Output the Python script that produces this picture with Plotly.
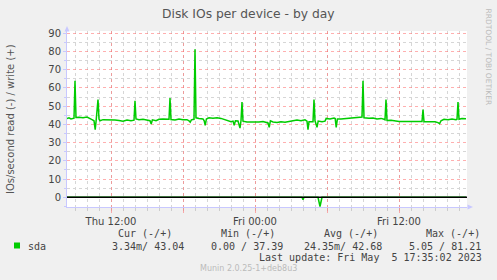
import plotly.graph_objects as go

# ---------------- data ----------------
write_times = [
    "2023-05-04 08:20", "2023-05-04 08:30", "2023-05-04 08:40", "2023-05-04 08:50", "2023-05-04 08:55",
    "2023-05-04 09:00", "2023-05-04 09:05", "2023-05-04 09:20", "2023-05-04 09:40", "2023-05-04 10:00",
    "2023-05-04 10:15", "2023-05-04 10:25", "2023-05-04 10:35", "2023-05-04 10:41", "2023-05-04 10:46",
    "2023-05-04 10:55", "2023-05-04 11:00", "2023-05-04 11:05", "2023-05-04 11:20", "2023-05-04 11:40",
    "2023-05-04 12:00", "2023-05-04 12:20", "2023-05-04 12:40", "2023-05-04 13:00", "2023-05-04 13:20",
    "2023-05-04 13:40", "2023-05-04 13:55", "2023-05-04 14:00", "2023-05-04 14:05", "2023-05-04 14:20",
    "2023-05-04 14:40", "2023-05-04 15:00", "2023-05-04 15:15", "2023-05-04 15:21", "2023-05-04 15:27",
    "2023-05-04 15:45", "2023-05-04 16:00", "2023-05-04 16:20", "2023-05-04 16:40", "2023-05-04 16:50",
    "2023-05-04 16:55", "2023-05-04 17:00", "2023-05-04 17:20", "2023-05-04 17:40", "2023-05-04 18:00",
    "2023-05-04 18:20", "2023-05-04 18:30", "2023-05-04 18:36", "2023-05-04 18:42", "2023-05-04 18:55",
    "2023-05-04 19:00", "2023-05-04 19:05", "2023-05-04 19:20", "2023-05-04 19:40", "2023-05-04 19:46",
    "2023-05-04 19:51", "2023-05-04 19:57", "2023-05-04 20:10", "2023-05-04 20:30", "2023-05-04 20:50",
    "2023-05-04 21:10", "2023-05-04 21:30", "2023-05-04 21:45", "2023-05-04 22:00", "2023-05-04 22:10",
    "2023-05-04 22:16", "2023-05-04 22:22", "2023-05-04 22:35", "2023-05-04 22:45", "2023-05-04 22:50",
    "2023-05-04 22:55", "2023-05-04 23:00", "2023-05-04 23:20", "2023-05-04 23:40", "2023-05-05 00:00",
    "2023-05-05 00:20", "2023-05-05 00:40", "2023-05-05 01:00", "2023-05-05 01:05", "2023-05-05 01:11",
    "2023-05-05 01:17", "2023-05-05 01:30", "2023-05-05 01:50", "2023-05-05 02:10", "2023-05-05 02:30",
    "2023-05-05 02:50", "2023-05-05 03:10", "2023-05-05 03:30", "2023-05-05 03:50", "2023-05-05 04:10",
    "2023-05-05 04:20", "2023-05-05 04:25", "2023-05-05 04:30", "2023-05-05 04:45", "2023-05-05 04:50",
    "2023-05-05 04:55", "2023-05-05 05:00", "2023-05-05 05:10", "2023-05-05 05:16", "2023-05-05 05:35",
    "2023-05-05 05:50", "2023-05-05 05:56", "2023-05-05 06:15", "2023-05-05 06:35", "2023-05-05 06:41",
    "2023-05-05 06:46", "2023-05-05 06:52", "2023-05-05 07:10", "2023-05-05 07:30", "2023-05-05 07:50",
    "2023-05-05 08:10", "2023-05-05 08:30", "2023-05-05 08:50", "2023-05-05 08:55", "2023-05-05 09:00",
    "2023-05-05 09:05", "2023-05-05 09:30", "2023-05-05 09:50", "2023-05-05 10:10", "2023-05-05 10:30",
    "2023-05-05 10:45", "2023-05-05 10:50", "2023-05-05 10:55", "2023-05-05 11:00", "2023-05-05 11:20",
    "2023-05-05 11:40", "2023-05-05 12:00", "2023-05-05 12:30", "2023-05-05 13:00", "2023-05-05 13:30",
    "2023-05-05 13:50", "2023-05-05 13:55", "2023-05-05 14:00", "2023-05-05 14:05", "2023-05-05 14:30",
    "2023-05-05 15:00", "2023-05-05 15:15", "2023-05-05 15:23", "2023-05-05 15:30", "2023-05-05 15:45",
    "2023-05-05 16:05", "2023-05-05 16:25", "2023-05-05 16:45", "2023-05-05 16:50", "2023-05-05 16:55",
    "2023-05-05 17:00", "2023-05-05 17:15", "2023-05-05 17:30", "2023-05-05 17:35",
]
write_vals = [
    43.2, 43.6, 43.0, 43.5, 43.4,
    64.0, 43.8, 43.9, 43.6, 44.0,
    43.4, 42.6, 42.0, 37.1, 42.5,
    53.6, 43.0, 42.0, 42.6, 42.5,
    42.8, 42.4, 42.1, 41.8, 42.4,
    42.0, 42.3, 52.9, 43.0, 42.6,
    42.8, 42.3, 42.0, 40.2, 42.5,
    42.0, 42.8, 43.0, 42.6, 42.8,
    54.5, 42.7, 42.4, 42.9, 42.5,
    42.6, 42.0, 41.2, 42.5, 42.8,
    81.2, 43.6, 43.3, 43.0, 42.0,
    39.5, 43.0, 43.6, 43.4, 43.7,
    43.3, 42.6, 42.2, 41.5, 41.8,
    39.5, 42.0, 41.9, 38.0, 42.0,
    52.3, 41.8, 41.3, 41.2, 41.4,
    41.3, 41.6, 41.2, 40.8, 38.4,
    42.0, 41.3, 41.0, 41.4, 41.2,
    41.6, 42.2, 42.4, 42.0, 42.5,
    41.8, 37.1, 41.5, 41.6, 41.5,
    53.6, 42.0, 38.4, 41.8, 41.5,
    41.8, 43.3, 43.0, 43.5, 43.2,
    38.4, 43.0, 43.0, 43.2, 43.6,
    43.4, 43.8, 44.0, 44.0, 64.0,
    43.6, 43.4, 43.5, 43.0, 43.3,
    42.8, 42.5, 53.6, 42.2, 42.3,
    41.8, 41.6, 41.6, 41.5, 41.6,
    41.6, 41.6, 48.1, 41.5, 41.4,
    41.5, 41.0, 40.4, 42.0, 42.8,
    42.6, 42.9, 42.6, 42.8, 52.3,
    42.8, 43.2, 43.0, 43.04,
]
read_times = [
    "2023-05-04 08:20", "2023-05-05 03:55", "2023-05-05 04:00", "2023-05-05 04:05",
    "2023-05-05 05:15", "2023-05-05 05:25", "2023-05-05 05:35", "2023-05-05 17:35",
]
read_vals = [0, 0, -1.3, 0, 0, -5.05, 0, 0]

x_range = ["2023-05-04 08:20", "2023-05-05 17:40"]
x_major = ["2023-05-04 12:00", "2023-05-04 18:00", "2023-05-05 00:00",
           "2023-05-05 06:00", "2023-05-05 12:00"]
x_major_text = ["Thu 12:00", "", "Fri 00:00", "", "Fri 12:00"]
y_range = [-5.32, 91.26]

title_text = "Disk IOs per device - by day"
y_title = "IOs/second read (-) / write (+)"
side_text = "RRDTOOL / TOBI OETIKER"
series_name = "sda"
legend_heads = ["Cur (-/+)", "Min (-/+)", "Avg (-/+)", "Max (-/+)"]
legend_vals = ["3.34m/ 43.04", "0.00 / 37.39", "24.35m/ 42.68", "5.05 / 81.21"]
last_update = "Last update: Fri May\u00a0\u00a05 17:35:02 2023"
munin_text = "Munin 2.0.25-1+deb8u3"

# ---------------- layout geometry ----------------
W, H = 497, 280
L, R, T, B = 67, 30, 31, 73
PW, PH = W - L - R, H - T - B

def px(x):
    return (x - L) / PW

def py(y):
    return (H - B - y) / PH

GREEN = "#00cc00"
TXT = "#444444"
AXIS = "#c8c8ff"
MAJ = "rgba(255,110,110,0.55)"
MIN = "#d6d6d6"

fig = go.Figure()
fig.add_trace(go.Scatter(x=write_times, y=write_vals, mode="lines",
                         line=dict(color=GREEN, width=1.5), hoverinfo="skip",
                         showlegend=False))
fig.add_trace(go.Scatter(x=read_times, y=read_vals, mode="lines",
                         line=dict(color=GREEN, width=1.5), hoverinfo="skip",
                         showlegend=False))

fig.update_layout(
    width=W, height=H,
    margin=dict(l=L, r=R, t=T, b=B, pad=0),
    paper_bgcolor="#f0f0f0", plot_bgcolor="#ffffff",
    font=dict(family="DejaVu Sans", size=10, color=TXT),
    xaxis=dict(
        type="date", range=x_range, tickmode="array",
        tickvals=x_major, ticktext=x_major_text,
        showgrid=True, gridcolor=MAJ, griddash="dot", gridwidth=1,
        minor=dict(dtick=3600000, tick0="2023-05-04 00:00", showgrid=True,
                   gridcolor=MIN, griddash="dot", gridwidth=1,
                   ticks="outside", ticklen=3, tickcolor="#cccccc"),
        showline=True, linecolor=AXIS, linewidth=1,
        ticks="outside", ticklen=5, tickcolor=MAJ,
        tickfont=dict(family="DejaVu Sans", size=10, color=TXT),
        zeroline=False, fixedrange=True,
    ),
    yaxis=dict(
        range=y_range, tickmode="linear", tick0=0, dtick=10,
        showgrid=True, gridcolor=MAJ, griddash="dot", gridwidth=1,
        minor=dict(dtick=5, tick0=0, showgrid=True, gridcolor=MIN,
                   griddash="dot", gridwidth=1, ticks="outside", ticklen=2,
                   tickcolor=AXIS),
        showline=True, linecolor=AXIS, linewidth=1,
        ticks="outside", ticklen=3, tickcolor=AXIS,
        tickfont=dict(family="DejaVu Sans", size=10, color=TXT),
        zeroline=False, fixedrange=True,
    ),
)

shapes = []
# zero rule drawn above the data, as rrdtool does
shapes.append(dict(type="line", xref="paper", yref="y", x0=0, x1=1, y0=0, y1=0,
                   line=dict(color="#000000", width=1.5), layer="above"))
# axis arrows
shapes.append(dict(type="path", xref="paper", yref="paper",
                   path=f"M {px(64.5)} {py(31.5)} L {px(69.5)} {py(31.5)} L {px(67)} {py(26)} Z",
                   fillcolor=AXIS, line=dict(width=0)))
shapes.append(dict(type="path", xref="paper", yref="paper",
                   path=f"M {px(467.5)} {py(204.5)} L {px(467.5)} {py(209.5)} L {px(473)} {py(207)} Z",
                   fillcolor=AXIS, line=dict(width=0)))
# legend swatch
shapes.append(dict(type="rect", xref="paper", yref="paper",
                   x0=px(14), x1=px(20), y0=py(248.5), y1=py(242.5),
                   fillcolor=GREEN, line=dict(width=0)))
fig.update_layout(shapes=shapes)

MONO = "DejaVu Sans Mono"
ann = []
def add(text, x, y, xanchor="left", size=10, color=TXT, family=MONO, angle=0):
    ann.append(dict(text=text, x=px(x), y=py(y), xref="paper", yref="paper",
                    xanchor=xanchor, yanchor="middle", showarrow=False,
                    textangle=angle, font=dict(family=family, size=size, color=color)))

add(title_text, 248, 14, "center", 12.3, "#555555", "DejaVu Sans")
add(y_title, 10, 119, "center", 10, "#555555", "DejaVu Sans", -90)
add(side_text, 488.5, 57, "center", 7.5, "#bbbbbb", "DejaVu Sans", 90)

head_x = [116.2, 218.8, 321.8, 423.5]
val_x = [110.2, 209.2, 302.2, 406.8]
for h, hx in zip(legend_heads, head_x):
    add(h, hx, 233.5)
for v, vx in zip(legend_vals, val_x):
    add(v, vx, 246)
add(series_name, 26.2, 246)
add(last_update, 483.5, 257.5, "right")
add(munin_text, 248, 268.5, "center", 8, "#bbbbbb", "DejaVu Sans")
fig.update_layout(annotations=ann)

fig.write_html("out.html")
